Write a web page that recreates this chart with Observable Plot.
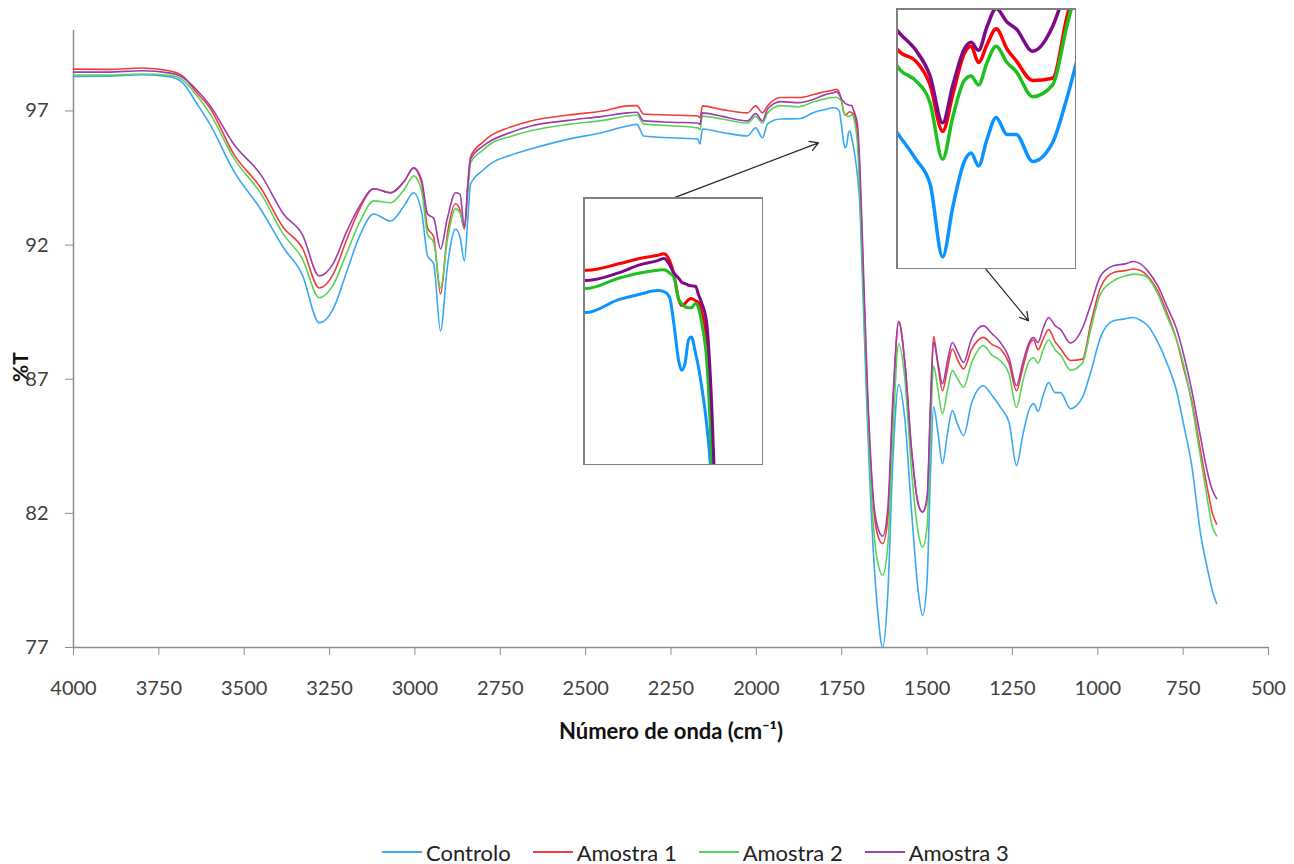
<!DOCTYPE html>
<html><head><meta charset="utf-8">
<script src="https://cdn.jsdelivr.net/npm/d3@7"></script>
<script src="https://cdn.jsdelivr.net/npm/@observablehq/plot@0.6"></script>
<style>
body{margin:0;background:#fff;font-family:Lato,sans-serif;}
#wrap{position:relative;width:1294px;height:864px;overflow:hidden;}
.inset{position:absolute;background:#fff;line-height:0;}
#legend{position:absolute;top:838px;left:382px;height:28px;display:flex;align-items:center;font-family:Lato,sans-serif;font-size:22px;color:#222;white-space:nowrap;}
#legend .item{display:flex;align-items:center;margin-right:22px;}
#legend .sw{width:40px;height:2px;margin-right:4px;}
</style></head><body><div id="wrap"></div>
<script>
const wavenumber = [4000,3900,3800,3720,3680,3640,3600,3531,3450,3385,3330,3280,3240,3200,3160,3121,3071,3030,3004,2980,2963,2945,2925,2905,2881,2868,2855,2845,2837,2800,2779,2720,2661,2550,2450,2377,2350,2330,2250,2172,2165,2158,2100,2026,2002,1982,1967,1929,1875,1830,1800,1774,1765,1757,1751,1744,1740,1735,1730,1726,1720,1716,1711,1704,1697,1690,1675,1657,1645,1630,1615,1600,1583,1565,1545,1525,1513,1500,1490,1481,1468,1455,1440,1426,1410,1393,1370,1335,1310,1285,1260,1238,1220,1200,1188,1175,1160,1144,1125,1109,1080,1045,1020,992,954,920,895,875,854,825,796,770,749,725,699,680,664,652];

const controlo = [98.29,98.30,98.35,98.28,98.05,97.3,96.5,94.77,93.3,91.9,90.9,89.1,89.6,91.0,92.4,93.16,92.9,93.5,93.95,93.2,91.6,91.3,88.8,91.2,92.6,92.3,91.41,93.0,94.28,94.8,95.03,95.35,95.58,95.95,96.2,96.44,96.5,96.07,96.0,95.96,95.77,96.33,96.2,96.07,96.37,96.0,96.52,96.7,96.71,96.95,97.05,97.12,97.1,96.99,96.5,95.8,95.63,95.76,96.2,96.25,95.95,95.7,95.3,94.6,93.5,91.0,85.5,80.5,78.4,77.0,79.0,84.0,86.8,85.5,82.0,79.0,78.2,79.5,83.5,85.97,85.0,83.85,85.0,85.83,85.3,84.9,86.1,86.76,86.4,85.95,85.4,83.78,84.9,85.9,86.09,85.8,86.4,86.88,86.5,86.5,85.9,86.32,87.3,88.56,89.18,89.25,89.3,89.2,89.0,88.4,87.56,86.6,85.34,83.8,81.24,80.0,79.1,78.64];

const amostra1 = [98.56,98.55,98.6,98.5,98.3,97.7,97.1,95.4,94.1,92.65,91.9,90.4,90.9,92.2,93.4,94.1,93.95,94.4,94.88,94.3,92.65,92.3,90.18,92.4,93.54,93.3,92.6,94.3,95.3,95.85,96.07,96.4,96.63,96.85,97.0,97.19,97.2,96.89,96.85,96.81,96.75,97.19,97.05,96.93,97.19,96.93,97.19,97.5,97.5,97.62,97.72,97.78,97.81,97.68,97.43,96.95,96.84,96.88,96.95,96.97,96.93,96.9,96.7,96.2,94.5,92.0,86.5,82.3,81.2,80.87,81.8,86.0,89.15,87.6,84.3,82.3,82.05,82.5,86.0,88.6,87.5,86.57,87.4,88.13,87.7,87.38,88.1,88.56,88.3,88.13,87.6,86.57,87.4,88.3,88.46,88.1,88.5,88.85,88.4,88.14,87.7,87.75,89.1,90.42,90.98,91.05,91.11,91.05,90.85,90.3,89.43,88.5,87.44,86.2,84.34,83.0,81.99,81.6];

const amostra2 = [98.34,98.34,98.38,98.33,98.15,97.6,96.9,95.25,93.9,92.4,91.5,90.04,90.5,91.7,92.9,93.65,93.58,94.1,94.58,94.0,92.4,92.1,90.4,92.2,93.35,93.2,92.65,94.0,95.07,95.55,95.77,96.05,96.26,96.5,96.65,96.81,96.85,96.52,96.45,96.37,96.3,96.81,96.7,96.55,96.8,96.55,96.93,97.2,97.16,97.35,97.45,97.5,97.51,97.45,97.37,96.95,96.88,96.82,96.8,96.8,96.88,96.8,96.5,95.8,94.0,91.5,86.0,81.5,80.2,79.7,80.8,85.0,88.32,87.0,83.5,81.2,80.74,81.5,85.0,87.5,86.6,85.71,86.6,87.32,87.0,86.7,87.6,88.25,87.9,87.69,87.2,85.95,86.9,87.7,87.8,87.6,88.1,88.46,88.1,87.9,87.34,87.6,88.9,90.18,90.67,90.85,90.92,90.9,90.79,90.2,89.3,88.5,87.56,86.1,84.09,82.6,81.48,81.17];

const amostra3 = [98.45,98.45,98.5,98.42,98.25,97.8,97.2,95.77,94.6,93.16,92.4,90.85,91.3,92.5,93.5,94.1,93.95,94.4,94.88,94.4,93.16,93.0,91.86,93.0,93.95,93.9,92.65,94.2,95.2,95.7,95.88,96.2,96.44,96.65,96.8,96.93,96.95,96.63,96.58,96.55,96.5,96.93,96.8,96.63,96.9,96.63,97.07,97.35,97.31,97.45,97.6,97.68,97.72,97.6,97.45,97.35,97.28,97.25,97.22,97.21,97.2,97.05,96.88,96.5,95.0,92.5,86.8,82.5,81.5,81.15,82.2,86.3,89.15,87.6,84.3,82.3,82.05,82.6,86.0,88.4,87.6,86.83,87.7,88.37,88.0,87.63,88.5,88.99,88.7,88.37,87.8,86.76,87.6,88.4,88.55,88.37,88.9,89.3,89.0,88.85,88.35,88.9,89.8,90.85,91.23,91.3,91.39,91.3,91.04,90.5,89.67,88.9,87.94,86.6,84.84,83.6,82.85,82.55];

const seriesNames = ["Controlo","Amostra 1","Amostra 2","Amostra 3"];
const seriesValues = [controlo, amostra1, amostra2, amostra3];
const mainColors = ["#3aa9f2","#f23b3b","#58d458","#a03cab"];
const insetColors = ["#0b93ff","#ff0000","#1fbf1f","#7d0a86"];
const xTicks = [4000,3750,3500,3250,3000,2750,2500,2250,2000,1750,1500,1250,1000,750,500];
const yTicks = [77,82,87,92,97];
const xTitle = "Número de onda (cm⁻¹)";
const yTitle = "%T";
// zoom windows of the two insets (data units)
const inset1Window = {x:[1880,1623], y:[93.85,98.86]};
const inset2Window = {x:[1319,1003], y:[83.5,89.3]};
// arrows linking insets to the spectrum (data units)
const arrows = [
  {x1:2242, y1:93.76, x2:1818, y2:95.81},
  {x1:1329, y1:91.12, x2:1203, y2:89.18}
];

const rows = [];
seriesNames.forEach((s, i) => {
  for (let j = wavenumber.length - 1; j >= 0; j--) {
    rows.push({series: s, wn: wavenumber[j], t: seriesValues[i][j]});
  }
});

const wrap = document.getElementById("wrap");

const main = Plot.plot({
  width: 1294, height: 790,
  marginTop: 30, marginBottom: 143, marginLeft: 73, marginRight: 26,
  style: {fontFamily: "Lato, sans-serif", fontSize: "20px", color: "#404040", background: "transparent"},
  x: {domain: [4000, 500], ticks: xTicks},
  y: {domain: [77, 100], ticks: yTicks},
  color: {domain: seriesNames, range: mainColors},
  marks: [
    Plot.axisX({ticks: xTicks, tickFormat: d => String(d), tickSize: 8, tickPadding: 25, stroke: "#8c8c8c", fill: "#404040", label: null}),
    Plot.axisY({ticks: yTicks, tickFormat: d => String(d), tickSize: 8, tickPadding: 17, stroke: "#8c8c8c", fill: "#404040", label: null}),
    Plot.ruleX([4000], {stroke: "#8c8c8c", strokeWidth: 1.5}),
    Plot.ruleY([77], {stroke: "#8c8c8c", strokeWidth: 1.5}),
    Plot.line(rows, {x: "wn", y: "t", z: "series", stroke: "series", strokeWidth: 1.6, curve: "monotone-x"}),
    Plot.arrow(arrows, {x1: "x1", y1: "y1", x2: "x2", y2: "y2", stroke: "#222", strokeWidth: 1.2, headLength: 12, bend: 0}),
    Plot.text([xTitle], {frameAnchor: "bottom", dy: 91, fontWeight: "bold", fontSize: 22, fill: "#111"}),
    Plot.text([yTitle], {frameAnchor: "left", dx: -52, dy: 43, rotate: -90, fontWeight: "bold", fontSize: 21, fill: "#111"})
  ]
});
wrap.appendChild(main);

function makeInset(win, w, h, sw, left, top) {
  const p = Plot.plot({
    width: w, height: h, margin: 0,
    style: {background: "#fff"},
    x: {domain: win.x, axis: null},
    y: {domain: win.y, axis: null},
    color: {domain: seriesNames, range: insetColors},
    marks: [
      Plot.line(rows, {x: "wn", y: "t", z: "series", stroke: "series", strokeWidth: sw, curve: "monotone-x", clip: true}),
      Plot.frame({stroke: "#7f7f7f", strokeWidth: 3})
    ]
  });
  const d = document.createElement("div");
  d.className = "inset";
  d.style.left = left + "px";
  d.style.top = top + "px";
  d.appendChild(p);
  wrap.appendChild(d);
}
makeInset(inset1Window, 180, 268, 3, 583, 197);
makeInset(inset2Window, 180, 261, 3.5, 896, 8);

const legend = document.createElement("div");
legend.id = "legend";
seriesNames.forEach((s, i) => {
  const it = document.createElement("div");
  it.className = "item";
  const sw = document.createElement("span");
  sw.className = "sw";
  sw.style.background = mainColors[i];
  const tx = document.createElement("span");
  tx.textContent = s;
  it.appendChild(sw); it.appendChild(tx);
  legend.appendChild(it);
});
wrap.appendChild(legend);
</script></body></html>
